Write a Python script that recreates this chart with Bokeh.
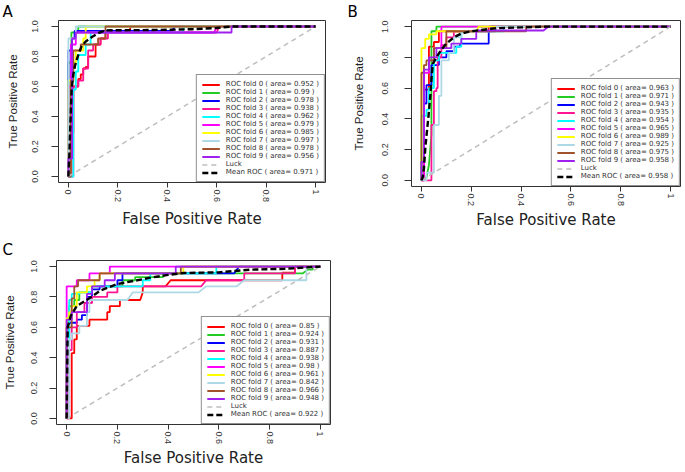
from bokeh.plotting import figure
from bokeh.models import Range1d, FixedTicker, Legend, LegendItem
from bokeh.layouts import column, row
from bokeh.embed import file_html
from bokeh.resources import INLINE

# ---------------- data ----------------
FOLD_COLORS = ["#FF0000", "#22CC22", "#0000FF", "#FF1493", "#00FFFF",
               "#FF00FF", "#FFFF00", "#ADD8E6", "#A0522D", "#A020F0"]
LUCK_COLOR = "#BEBEBE"
X_TICKS = [0, 0.2, 0.4, 0.6, 0.8, 1]
X_TICK_LABELS = ["0", "0.2", "0.4", "0.6", "0.8", "1"]
Y_TICK_LABELS = ["0.0", "0.2", "0.4", "0.6", "0.8", "1.0"]

# Panel A
A_AUC = [0.952, 0.99, 0.978, 0.938, 0.962, 0.979, 0.985, 0.997, 0.978, 0.956]
A_MEAN_AUC = 0.971
A_FPR = [
    [0, 0.01, 0.01, 0.02, 0.02, 0.04, 0.04, 0.05, 0.05, 0.06, 0.06, 0.07, 0.07, 0.08, 0.08, 0.11, 0.11, 0.13, 0.13, 0.15, 0.15, 0.25, 0.25, 1],
    [0, 0, 0.012, 0.012, 0.04, 0.04, 1],
    [0, 0, 0.015, 0.015, 0.025, 0.025, 0.42, 0.43, 1],
    [0, 0.02, 0.02, 0.04, 0.04, 0.06, 0.06, 0.08, 0.08, 0.1, 0.1, 0.13, 0.13, 0.16, 0.16, 0.6, 0.61, 1],
    [0, 0.02, 0.02, 0.03, 0.03, 0.04, 0.04, 0.07, 0.07, 0.09, 0.09, 0.46, 0.47, 1],
    [0, 0, 0.01, 0.01, 0.03, 0.03, 0.59, 0.6, 1],
    [0, 0, 0.02, 0.02, 0.03, 0.03, 0.06, 0.06, 0.07, 0.07, 1],
    [0, 0, 0.03, 0.03, 1],
    [0, 0.01, 0.01, 0.02, 0.02, 0.05, 0.05, 0.12, 0.12, 0.15, 0.15, 1],
    [0, 0, 0.015, 0.015, 0.03, 0.03, 0.66, 0.66, 1],
]
A_TPR = [
    [0, 0, 0.29, 0.29, 0.6, 0.6, 0.65, 0.65, 0.68, 0.68, 0.72, 0.72, 0.73, 0.73, 0.8, 0.8, 0.88, 0.88, 0.92, 0.92, 0.97, 0.97, 1, 1],
    [0, 0.76, 0.76, 0.96, 0.96, 1, 1],
    [0, 0.84, 0.84, 0.92, 0.92, 0.97, 0.97, 1, 1],
    [0, 0, 0.6, 0.6, 0.64, 0.64, 0.72, 0.72, 0.84, 0.84, 0.88, 0.88, 0.92, 0.92, 0.96, 0.96, 1, 1],
    [0, 0, 0.58, 0.58, 0.7, 0.7, 0.81, 0.81, 0.88, 0.88, 0.96, 0.96, 1, 1],
    [0, 0.6, 0.6, 0.88, 0.88, 0.96, 0.96, 1, 1],
    [0, 0.64, 0.64, 0.76, 0.76, 0.84, 0.84, 0.92, 0.92, 1, 1],
    [0, 0.92, 0.92, 1, 1],
    [0, 0, 0.64, 0.64, 0.84, 0.84, 0.88, 0.88, 0.92, 0.92, 1, 1],
    [0, 0.12, 0.12, 0.92, 0.92, 0.96, 0.96, 1, 1],
]
A_MEAN_FPR = [0, 0.004, 0.008, 0.013, 0.02, 0.027, 0.034, 0.044, 0.054, 0.07, 0.095, 0.12, 0.148, 0.2, 0.3, 0.4, 0.5, 0.6, 0.66, 1]
A_MEAN_TPR = [0, 0.15, 0.35, 0.58, 0.68, 0.74, 0.78, 0.83, 0.87, 0.9, 0.93, 0.955, 0.974, 0.975, 0.976, 0.978, 0.982, 0.99, 1, 1]

# Panel B
B_AUC = [0.963, 0.971, 0.943, 0.935, 0.954, 0.965, 0.989, 0.925, 0.975, 0.958]
B_MEAN_AUC = 0.958
B_FPR = [
    [0, 0.01, 0.01, 0.03, 0.03, 0.05, 0.05, 0.07, 0.07, 0.27, 0.27, 1],
    [0, 0.02, 0.03, 0.04, 0.04, 0.06, 0.06, 1],
    [0, 0, 0.01, 0.01, 0.02, 0.02, 0.04, 0.04, 0.07, 0.07, 0.1, 0.1, 0.13, 0.13, 0.155, 0.155, 0.27, 0.27, 0.28, 0.28, 1],
    [0, 0.04, 0.04, 0.05, 0.05, 0.06, 0.06, 0.065, 0.065, 0.08, 0.08, 0.1, 0.1, 0.13, 0.13, 0.3, 0.3, 1],
    [0, 0, 0.02, 0.02, 0.03, 0.03, 0.05, 0.05, 0.07, 0.07, 0.14, 0.14, 0.16, 0.16, 0.33, 0.33, 1],
    [0, 0.01, 0.01, 0.03, 0.03, 0.05, 0.05, 0.08, 0.08, 1],
    [0, 0, 0.015, 0.015, 0.03, 0.03, 0.06, 0.06, 0.22, 0.23, 1],
    [0, 0.02, 0.02, 0.05, 0.05, 0.07, 0.07, 0.08, 0.08, 0.11, 0.11, 0.13, 0.13, 0.16, 0.16, 0.3, 0.3, 1],
    [0, 0, 0.01, 0.01, 0.02, 0.02, 0.05, 0.05, 0.1, 0.1, 0.42, 0.42, 1],
    [0, 0, 0.01, 0.01, 0.03, 0.03, 0.06, 0.06, 0.12, 0.12, 0.16, 0.16, 0.22, 0.22, 0.49, 0.51, 1],
]
B_TPR = [
    [0, 0, 0.59, 0.59, 0.87, 0.87, 0.9, 0.9, 0.97, 0.97, 1, 1],
    [0, 0.02, 0.1, 0.3, 0.97, 0.97, 1, 1],
    [0, 0.12, 0.12, 0.5, 0.5, 0.62, 0.62, 0.75, 0.75, 0.8, 0.8, 0.84, 0.84, 0.87, 0.87, 0.89, 0.89, 0.97, 0.97, 1, 1],
    [0, 0, 0.36, 0.36, 0.58, 0.58, 0.6, 0.6, 0.8, 0.8, 0.88, 0.88, 0.93, 0.93, 0.97, 0.97, 1, 1],
    [0, 0.42, 0.42, 0.46, 0.46, 0.6, 0.6, 0.78, 0.78, 0.83, 0.83, 0.87, 0.87, 0.97, 0.97, 1, 1],
    [0, 0, 0.7, 0.7, 0.78, 0.78, 0.86, 0.86, 1, 1],
    [0, 0.86, 0.86, 0.92, 0.92, 0.95, 0.95, 0.97, 0.97, 1, 1],
    [0, 0, 0.05, 0.05, 0.36, 0.36, 0.55, 0.55, 0.78, 0.78, 0.83, 0.83, 0.93, 0.93, 0.97, 0.97, 1, 1],
    [0, 0.7, 0.7, 0.75, 0.75, 0.78, 0.78, 0.86, 0.86, 0.97, 0.97, 1, 1],
    [0, 0.12, 0.12, 0.72, 0.72, 0.8, 0.8, 0.86, 0.86, 0.89, 0.89, 0.92, 0.92, 0.975, 0.975, 1, 1],
]
B_MEAN_FPR = [0, 0.005, 0.01, 0.016, 0.022, 0.029, 0.036, 0.041, 0.046, 0.06, 0.08, 0.1, 0.13, 0.16, 0.2, 0.25, 0.3, 0.4, 0.5, 1]
B_MEAN_TPR = [0, 0.02, 0.08, 0.22, 0.32, 0.43, 0.56, 0.68, 0.76, 0.8, 0.85, 0.89, 0.93, 0.955, 0.97, 0.98, 0.99, 0.995, 1, 1]

# Panel C
C_AUC = [0.85, 0.924, 0.931, 0.887, 0.938, 0.98, 0.961, 0.842, 0.966, 0.948]
C_MEAN_AUC = 0.922
C_FPR = [
    [0, 0.02, 0.02, 0.03, 0.03, 0.04, 0.04, 0.09, 0.09, 0.16, 0.16, 0.17, 0.17, 0.21, 0.21, 0.29, 0.3, 0.3, 0.39, 0.41, 0.85, 0.85, 0.9, 0.9, 1],
    [0, 0, 0.01, 0.01, 0.03, 0.03, 0.05, 0.05, 0.1, 0.1, 0.22, 0.22, 0.27, 0.27, 0.38, 0.38, 0.93, 0.95, 0.97, 0.97, 1],
    [0, 0, 0.01, 0.01, 0.04, 0.04, 0.06, 0.06, 0.08, 0.08, 0.1, 0.1, 0.13, 0.13, 0.2, 0.2, 0.22, 0.22, 0.66, 0.68, 1],
    [0, 0.01, 0.01, 0.02, 0.02, 0.04, 0.04, 0.07, 0.07, 0.1, 0.1, 0.16, 0.16, 0.2, 0.2, 0.53, 0.55, 0.7, 0.7, 0.9, 0.9, 1],
    [0, 0, 0.01, 0.01, 0.02, 0.02, 0.05, 0.05, 0.1, 0.1, 0.3, 0.3, 0.33, 0.33, 0.59, 0.59, 1],
    [0, 0, 0.04, 0.04, 0.09, 0.09, 0.17, 0.17, 1],
    [0, 0, 0.01, 0.01, 0.02, 0.02, 0.04, 0.04, 0.08, 0.08, 0.11, 0.11, 0.13, 0.13, 0.46, 0.46, 1],
    [0, 0.01, 0.01, 0.02, 0.02, 0.05, 0.05, 0.08, 0.08, 0.09, 0.09, 0.24, 0.26, 0.52, 0.55, 0.67, 0.7, 0.945, 0.945, 1],
    [0, 0, 0.02, 0.02, 0.03, 0.03, 0.045, 0.045, 0.13, 0.13, 0.45, 0.45, 1],
    [0, 0, 0.02, 0.02, 0.08, 0.08, 0.1, 0.1, 0.15, 0.15, 0.19, 0.19, 0.43, 0.43, 1],
]
C_TPR = [
    [0, 0, 0.43, 0.43, 0.52, 0.52, 0.61, 0.61, 0.65, 0.65, 0.7, 0.7, 0.74, 0.74, 0.78, 0.78, 0.83, 0.87, 0.87, 0.91, 0.91, 0.96, 0.96, 1, 1],
    [0, 0.6, 0.6, 0.74, 0.74, 0.78, 0.78, 0.83, 0.83, 0.87, 0.87, 0.91, 0.91, 0.93, 0.93, 0.955, 0.955, 0.98, 0.98, 1, 1],
    [0, 0.54, 0.54, 0.63, 0.63, 0.65, 0.65, 0.68, 0.68, 0.8, 0.8, 0.85, 0.85, 0.87, 0.87, 0.91, 0.91, 0.955, 0.955, 1, 1],
    [0, 0, 0.45, 0.45, 0.6, 0.6, 0.7, 0.7, 0.76, 0.76, 0.8, 0.8, 0.83, 0.83, 0.87, 0.87, 0.91, 0.91, 0.955, 0.955, 1, 1],
    [0, 0.5, 0.5, 0.78, 0.78, 0.82, 0.82, 0.83, 0.83, 0.87, 0.87, 0.91, 0.91, 0.955, 0.955, 1, 1],
    [0, 0.87, 0.87, 0.91, 0.91, 0.955, 0.955, 1, 1],
    [0, 0.66, 0.66, 0.7, 0.7, 0.74, 0.74, 0.83, 0.83, 0.87, 0.87, 0.91, 0.91, 0.955, 0.955, 1, 1],
    [0, 0, 0.52, 0.52, 0.56, 0.56, 0.61, 0.61, 0.7, 0.7, 0.78, 0.78, 0.83, 0.83, 0.87, 0.87, 0.91, 0.91, 1, 1],
    [0, 0.6, 0.6, 0.79, 0.79, 0.87, 0.87, 0.91, 0.91, 0.955, 0.955, 1, 1],
    [0, 0.65, 0.65, 0.7, 0.7, 0.82, 0.82, 0.87, 0.87, 0.91, 0.91, 0.955, 0.955, 1, 1],
]
C_MEAN_FPR = [0, 0.002, 0.004, 0.016, 0.04, 0.088, 0.134, 0.2, 0.266, 0.33, 0.4, 0.46, 0.6, 0.726, 0.86, 0.95, 1]
C_MEAN_TPR = [0, 0.3, 0.6, 0.675, 0.74, 0.79, 0.843, 0.885, 0.906, 0.927, 0.945, 0.958, 0.962, 0.98, 0.985, 0.995, 1]

LUCK_X = [0, 1]
LUCK_Y = [0, 1]


def make_panel(letter, fprs, tprs, aucs, mean_fpr, mean_tpr, mean_auc,
               fw, fh, bl, br, bt, bb, y_std, y_als, x_als,
               letter_offset, letter_standoff):
    lo, hi = -0.04, 1.04
    p = figure(frame_width=fw, frame_height=fh,
               min_border_left=bl, min_border_right=br,
               min_border_top=bt, min_border_bottom=bb,
               x_range=Range1d(lo, hi), y_range=Range1d(lo, hi),
               output_backend="svg", toolbar_location=None)
    p.grid.visible = False
    p.outline_line_color = "#333333"
    p.outline_line_width = 1
    p.background_fill_color = "white"
    p.border_fill_color = "white"

    p.title.text = letter
    p.title.align = "left"
    p.title.offset = letter_offset
    p.title.standoff = letter_standoff
    p.title.text_font = "DejaVu Sans"
    p.title.text_font_size = "15px"
    p.title.text_font_style = "normal"
    p.title.text_color = "black"

    for ax in p.xaxis:
        ax.ticker = FixedTicker(ticks=X_TICKS)
        ax.major_label_overrides = dict(zip(X_TICKS, X_TICK_LABELS))
        ax.bounds = (0, 1)
        ax.major_label_orientation = "vertical"
        ax.major_tick_in = 0
        ax.major_tick_out = 5
        ax.minor_tick_line_color = None
        ax.major_label_standoff = 2
        ax.axis_label = "False Positive Rate"
        ax.axis_label_standoff = x_als
        ax.axis_label_text_font = "DejaVu Sans"
        ax.axis_label_text_font_size = "15px"
        ax.axis_label_text_font_style = "normal"
        ax.axis_label_text_color = "#222222"
    for ax in p.yaxis:
        ax.ticker = FixedTicker(ticks=X_TICKS)
        ax.major_label_overrides = dict(zip(X_TICKS, Y_TICK_LABELS))
        ax.bounds = (0, 1)
        ax.major_label_orientation = "vertical"
        ax.major_tick_in = 0
        ax.major_tick_out = 7
        ax.minor_tick_line_color = None
        ax.major_label_standoff = y_std
        ax.axis_label = "True Positive Rate"
        ax.axis_label_standoff = y_als
        ax.axis_label_text_font = "Liberation Sans"
        ax.axis_label_text_font_size = "11.5px"
        ax.axis_label_text_font_style = "normal"
        ax.axis_label_text_color = "#222222"
    for ax in list(p.xaxis) + list(p.yaxis):
        ax.axis_line_color = "#333333"
        ax.major_tick_line_color = "#333333"
        ax.major_label_text_font = "Liberation Sans"
        ax.major_label_text_font_size = "9px"
        ax.major_label_text_color = "#333333"

    items = []
    for i in range(len(fprs)):
        r = p.line(fprs[i], tprs[i], line_color=FOLD_COLORS[i], line_width=1.8)
        items.append(LegendItem(label="ROC fold %d ( area= %s )" % (i, aucs[i]), renderers=[r]))
    rl = p.line(LUCK_X, LUCK_Y, line_color=LUCK_COLOR, line_width=1.5, line_dash="5 4")
    items.append(LegendItem(label="Luck", renderers=[rl]))
    rm = p.line(mean_fpr, mean_tpr, line_color="black", line_width=2.4, line_dash="6 3")
    items.append(LegendItem(label="Mean ROC ( area= %s )" % mean_auc, renderers=[rm]))

    legend = Legend(items=items, location="bottom_right", margin=0, padding=5,
                    spacing=0, glyph_width=18, glyph_height=7, label_height=7,
                    label_standoff=6, label_text_font="DejaVu Sans",
                    label_text_font_size="7px", label_text_color="#333333",
                    border_line_color="#222222", border_line_width=1,
                    background_fill_color="white", background_fill_alpha=1.0)
    p.add_layout(legend)
    return p


pA = make_panel("A", A_FPR, A_TPR, A_AUC, A_MEAN_FPR, A_MEAN_TPR, A_MEAN_AUC,
                267, 162, 58, 20, 18, 44, 14, 10, 5, -56, 0)
pB = make_panel("B", B_FPR, B_TPR, B_AUC, B_MEAN_FPR, B_MEAN_TPR, B_MEAN_AUC,
                269, 166, 66, 4, 18, 40, 16, 15, 2, -64, 0)
pC = make_panel("C", C_FPR, C_TPR, C_AUC, C_MEAN_FPR, C_MEAN_TPR, C_MEAN_AUC,
                274, 164, 56, 15, 28, 40, 12, 13, 2, -54, 3)

layout = column(row(pA, pB), pC)
open("out.html", "w").write(file_html(layout, INLINE))
